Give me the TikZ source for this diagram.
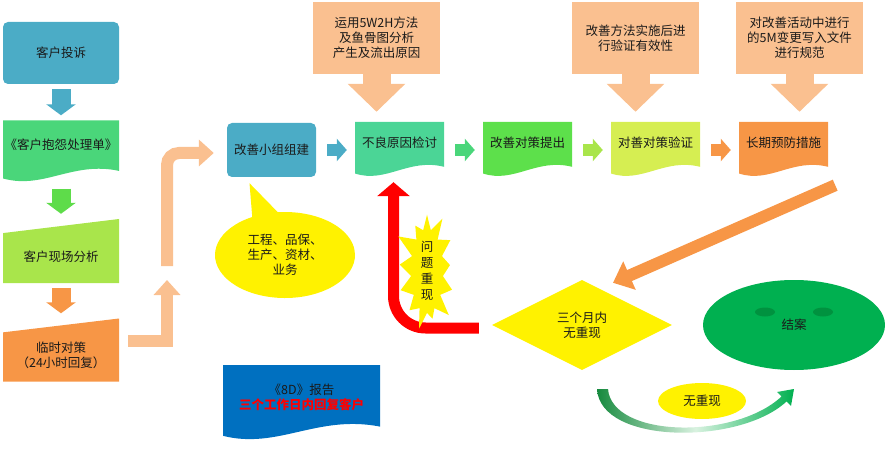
\documentclass[tikz,border=0pt]{standalone}
\usepackage{fontspec}
\newfontfamily\cjk{Noto Sans CJK SC}
\usetikzlibrary{arrows.meta, calc, positioning, shapes.geometric, shapes.callouts, shapes.symbols}

\definecolor{ink}{HTML}{1A1A1A}
\definecolor{cblue}{HTML}{4BACC6}
\definecolor{cform}{HTML}{4AD67A}
\definecolor{cgreen}{HTML}{5EDC4A}
\definecolor{clime}{HTML}{A9E54B}
\definecolor{corange}{HTML}{F79646}
\definecolor{cpeach}{HTML}{FAC090}
\definecolor{ccause}{HTML}{4BD596}
\definecolor{cpropose}{HTML}{5DE04B}
\definecolor{cverify}{HTML}{D6EE52}
\definecolor{cnavy}{HTML}{0070C0}
\definecolor{cclose}{HTML}{00B050}
\definecolor{ceye}{HTML}{00923F}
\definecolor{cdark}{HTML}{168A3E}
\definecolor{cpale}{HTML}{D9F2E0}

% document shape with a wavy bottom
\newcommand{\docfill}[1]{%
  \fill[#1] let \p1 = (path picture bounding box.south west),
                \p2 = (path picture bounding box.north east),
                \n1 = {\x2 - \x1}, \n2 = {\y2 - \y1} in
    (\x1, \y2) -- (\x2, \y2) -- (\x2, {\y1 + 0.2*\n2})
    .. controls ({\x1 + 0.6*\n1}, {\y1 + 0.36*\n2}) and ({\x1 + 0.35*\n1}, {\y1 - 0.1*\n2}) .. (\x1, {\y1 + 0.08*\n2}) -- cycle;}
% manual input shape with a slanted top
\newcommand{\manfill}[1]{%
  \fill[#1] let \p1 = (path picture bounding box.south west),
                \p2 = (path picture bounding box.north east) in
    (\x1, \y1) -- (\x2, \y1) -- (\x2, \y2) -- (\x1, {\y2 - 0.22*(\y2 - \y1)}) -- cycle;}

\tikzset{x = 1pt, y = -1pt,
         node distance = 128pt, on grid,
         every node/.style = {font = \cjk\fontsize{12.5}{15}\selectfont, text = ink, align = center},
         rbox/.style = {rectangle, rounded corners = 5pt, fill = #1, inner sep = 0pt},
         doc/.style = {minimum width = 89pt, minimum height = 56pt, inner sep = 0pt,
                       text depth = 16pt, path picture = {\docfill{#1}}},
         manual/.style = {minimum width = 116pt, minimum height = 64pt, inner sep = 0pt,
                          path picture = {\manfill{#1}}},
         note/.style = {rectangle, fill = cpeach, minimum width = 127pt, minimum height = 72pt, inner sep = 0pt},
         downblk/.style = {draw = #1, line width = 19pt, shorten <= 5pt, shorten >= 5pt,
                           -{Triangle[length = 11pt, width = 29pt]}},
         rightblk/.style = {draw = #1, line width = 12pt, shorten <= 11pt, shorten >= 8pt,
                            -{Triangle[length = 10pt, width = 22pt]}},
         notearrow/.style = {draw = cpeach, line width = 28pt, shorten >= 10pt,
                             -{Triangle[length = 28pt, width = 56pt]}},
         peacharrow/.style = {draw = cpeach, line width = 12pt, -{Triangle[length = 15pt, width = 26pt]}},
         redarrow/.style = {draw = red, line width = 11pt, rounded corners = 32pt,
                            -{Triangle[length = 14pt, width = 32pt]}},
         orangearrow/.style = {draw = corange, line width = 12pt, -{Triangle[length = 18pt, width = 30pt]}}}

\begin{document}
\begin{tikzpicture}
  \useasboundingbox (0, 0) rectangle (885, 454);

  % left column
  \node[rbox = cblue, minimum width = 116pt, minimum height = 62pt] (cmp) at (61, 53) {客户投诉};
  \node[doc = cform, minimum width = 116pt, minimum height = 63pt] (form) [below = 99pt of cmp] {《客户抱怨处理单》};
  \node[manual = clime, text height = 22pt] (site) [below = 99pt of form] {客户现场分析};
  \node[manual = corange, minimum height = 63pt, text height = 37pt] (tmp) [below = 99pt of site] {临时对策\\（24小时回复）};

  \draw[downblk = cblue] (cmp) -- (form);
  \draw[downblk = cgreen] (form) -- (site);
  \draw[downblk = corange] (site) -- (tmp);

  % top row
  \node[rbox = cblue, minimum width = 89pt, minimum height = 54pt] (grp) at (271.5, 150) {改善小组组建};
  \node[doc = ccause] (cause) [right = 128pt of grp] {不良原因检讨};
  \node[doc = cpropose] (plan) [right = 128pt of cause] {改善对策提出};
  \node[doc = cverify] (check) [right = 128pt of plan] {对善对策验证};
  \node[doc = corange] (lt) [right = 128pt of check] {长期预防措施};

  \draw[rightblk = cblue] (grp) -- (cause);
  \draw[rightblk = cform] (cause) -- (plan);
  \draw[rightblk = clime] (plan) -- (check);
  \draw[rightblk = corange] (check) -- (lt);

  \node[note] (n1) at (376.5, 38) {运用5W2H方法\\及鱼骨图分析\\产生及流出原因};
  \node[note] (n2) at (635.5, 38) {改善方法实施后进\\行验证有效性};
  \node[note] (n3) at (799.5, 38) {对改善活动中进行\\的5M变更写入文件\\进行规范};

  \draw[notearrow] (n1) -- (n1 |- cause.north);
  \draw[notearrow] (n2) -- (n2 |- check.north);
  \draw[notearrow] (n3) -- (n3 |- lt.north);

  % from the temporary measure up to the team
  \coordinate (bend a) at (167, 280);
  \coordinate (bend b) at (167, 266);
  \draw[peacharrow] ([shift = {(9pt, 9pt)}]tmp.east) -| (bend a);
  \draw[peacharrow, rounded corners = 12pt] (bend b) |- ([shift = {(-13pt, -3pt)}]grp.west);

  \node[ellipse callout, fill = yellow, minimum width = 140pt, minimum height = 86pt, inner sep = 0pt,
        callout pointer arc = 22, callout absolute pointer = {([shift = {(-22pt, -6pt)}]grp.south)}]
        (team) at (285, 255) {工程、品保、\\生产、资材、\\业务};

  % check after three months
  \node[diamond, fill = yellow, minimum width = 180pt, minimum height = 90pt, inner sep = 0pt, aspect = 2]
        (risk) at (582, 325) {三个月内\\无重现};

  \draw[redarrow] ([shift = {(-13pt, -3pt)}]risk.west) -| ([shift = {(-6pt, -4pt)}]cause.south);
  \node[starburst, fill = yellow, starburst points = 13, starburst point height = 20pt,
        minimum width = 72pt, minimum height = 104pt, inner sep = 0pt,
        font = \cjk\fontsize{12.5}{16}\selectfont] (again) at (427, 271) {问\\题\\重\\现};

  \draw[orangearrow] ([shift = {(7pt, -7pt)}]lt.south east) -- ([shift = {(31pt, -3pt)}]risk.north);

  \node[ellipse, fill = cclose, minimum width = 182pt, minimum height = 90pt, inner sep = 0pt]
        (close) at (794, 325) {结案};
  \fill[ceye] ([shift = {(-29pt, 13pt)}]close.center) ellipse [x radius = 10pt, y radius = 4.5pt];
  \fill[ceye] ([shift = {(29pt, 13pt)}]close.center) ellipse [x radius = 10pt, y radius = 4.5pt];

  \shade[left color = cdark, right color = cclose, middle color = cpale]
    (597, 389) .. controls (600, 445) and (740, 445) .. (786.5, 401.5) -- (791, 406) -- (794, 389)
    -- (777, 392) -- (781.5, 396.5) .. controls (735, 440) and (612, 438) .. (608, 389) -- cycle;
  \node[ellipse, fill = yellow, minimum width = 88pt, minimum height = 36pt, inner sep = 0pt]
        (nore) at (702, 401) {无重现};

  % report
  \node[doc = cnavy, minimum width = 157pt, minimum height = 77pt, text depth = 13pt]
        (rep) at (301.5, 403.5) {《8D》报告\\\textcolor{red}{\bfseries 三个工作日内回复客户}};
\end{tikzpicture}
\end{document}
